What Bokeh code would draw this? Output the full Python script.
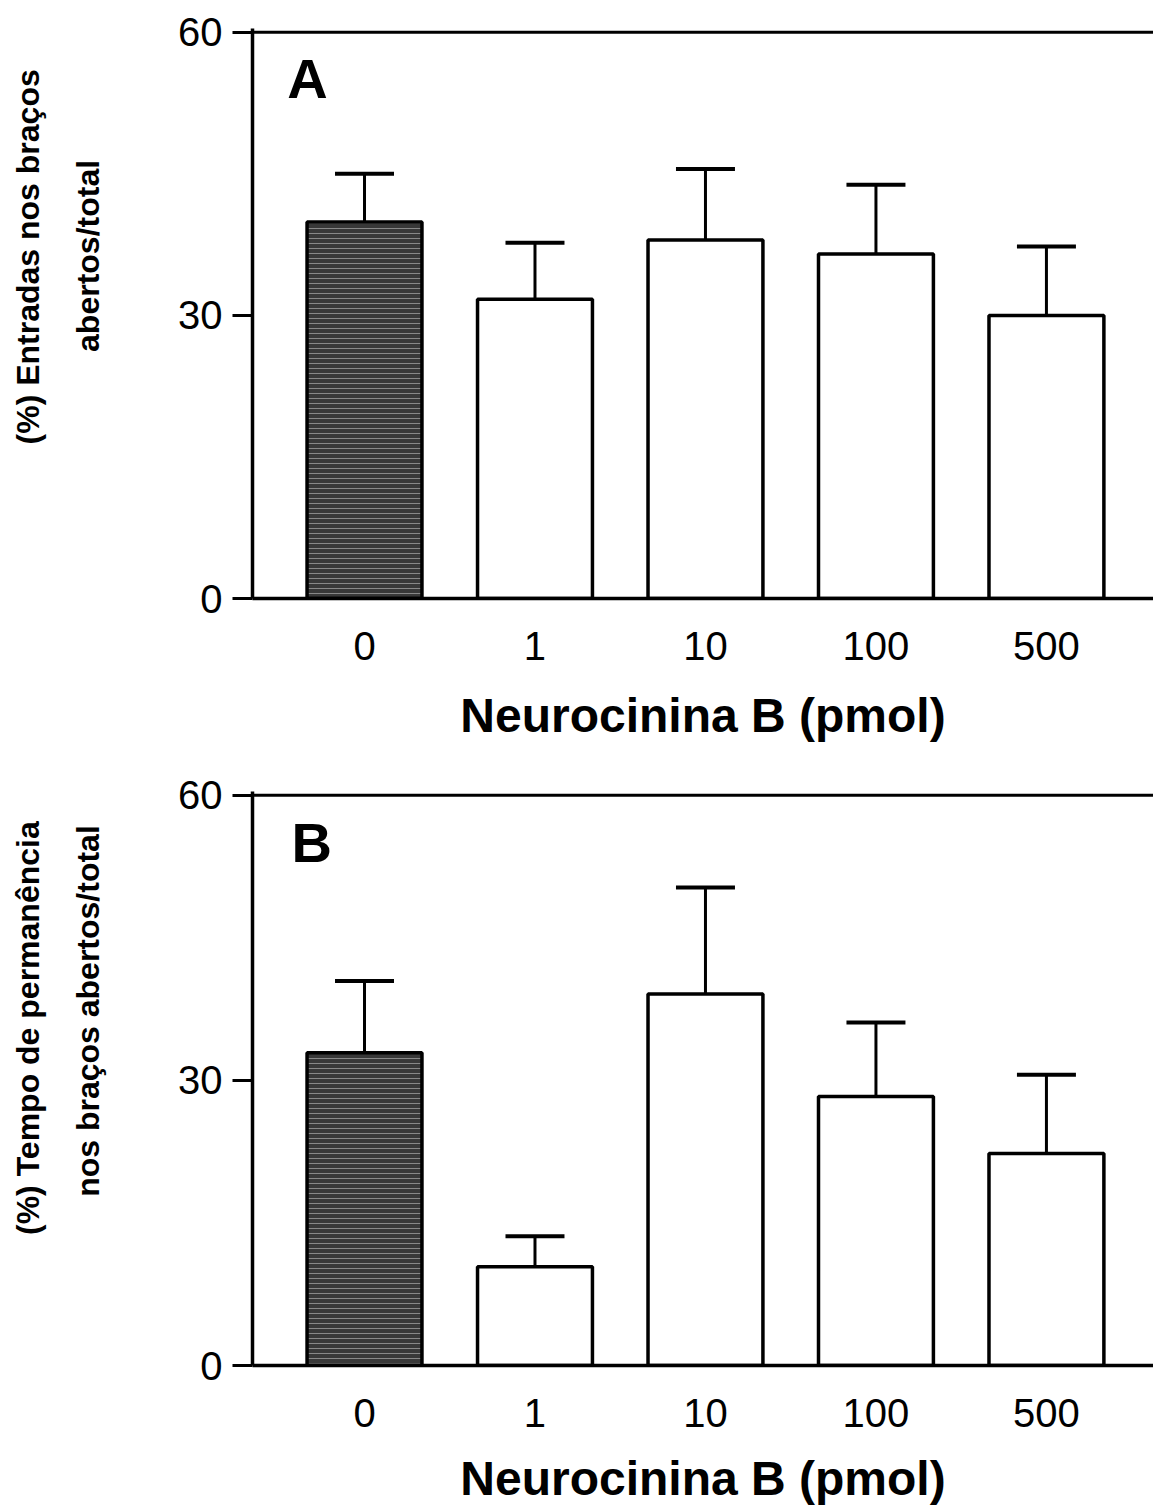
import numpy as np
from bokeh.plotting import figure
from bokeh.layouts import column, row
from bokeh.models import Range1d, FixedTicker, Span, Label
from bokeh.core.properties import value
from bokeh.embed import file_html
from bokeh.resources import INLINE

# ---- data ----
doses = ["0", "1", "10", "100", "500"]
entries_mean = [39.9, 31.7, 38.0, 36.5, 30.0]
entries_sem = [5.1, 6.0, 7.5, 7.35, 7.3]
time_mean = [32.9, 10.4, 39.1, 28.3, 22.3]
time_sem = [7.55, 3.2, 11.2, 7.8, 8.3]
y_ticks = [0, 30, 60]
x_title = "Neurocinina B (pmol)"
ylab_A = ["(%) Entradas nos braços", "abertos/total"]
ylab_B = ["(%) Tempo de permanência", "nos braços abertos/total"]

FONT = "Liberation Sans"
LEFT_W = 170
YTOP = 60.4


def panel(means, sems, letter, ylines, height, top_border, bottom_border, ylab_pos, letter_pos,
          label_standoff):
    idx = np.arange(len(doses))
    p = figure(width=1153 - LEFT_W, height=height, output_backend="svg", toolbar_location=None,
               x_range=Range1d(-0.657, 4.628), y_range=Range1d(0, YTOP),
               min_border_left=252 - LEFT_W, min_border_right=0,
               min_border_top=top_border, min_border_bottom=bottom_border)
    p.outline_line_color = None
    p.grid.visible = False

    # bars
    fills = ["#383838"] + ["white"] * (len(doses) - 1)
    hatch = ["horizontal_line"] + [" "] * (len(doses) - 1)
    p.vbar(x=idx, top=means, bottom=0, width=0.674, fill_color=fills,
           line_color="black", line_width=3.5,
           hatch_pattern=hatch, hatch_color="white", hatch_alpha=0.4,
           hatch_scale=5, hatch_weight=1)

    upper = np.array(means) + np.array(sems)
    p.segment(x0=idx, y0=means, x1=idx, y1=upper, line_color="black", line_width=3)
    p.segment(x0=idx - 0.173, y0=upper, x1=idx + 0.173, y1=upper,
              line_color="black", line_width=4)

    # top line at 60
    p.add_layout(Span(location=60, dimension="width", line_color="black", line_width=3))

    # y axis
    ya = p.yaxis[0]
    ya.ticker = FixedTicker(ticks=y_ticks)
    ya.axis_line_width = 3.5
    ya.major_tick_line_width = 3
    ya.major_tick_out = 20
    ya.major_tick_in = 0
    ya.minor_tick_line_color = None
    ya.major_label_text_font = FONT
    ya.major_label_text_font_size = "40px"
    ya.major_label_text_color = "black"
    ya.major_label_standoff = 10

    # x axis
    xa = p.xaxis[0]
    xa.ticker = FixedTicker(ticks=list(idx))
    xa.major_label_overrides = {int(i): d for i, d in zip(idx, doses)}
    xa.axis_line_width = 3.5
    xa.major_tick_line_color = None
    xa.minor_tick_line_color = None
    xa.major_label_text_font = FONT
    xa.major_label_text_font_size = "40px"
    xa.major_label_text_color = "black"
    xa.major_label_standoff = 27
    xa.axis_label = x_title
    xa.axis_label_text_font = FONT
    xa.axis_label_text_font_size = "48px"
    xa.axis_label_text_font_style = "bold"
    xa.axis_label_text_color = "black"
    xa.axis_label_standoff = label_standoff

    # panel letter
    p.add_layout(Label(x=letter_pos[0], y=letter_pos[1], text=letter,
                       text_align="center", text_baseline="alphabetic",
                       text_font=FONT, text_font_size="56px",
                       text_font_style="bold", text_color="black"))

    # side figure holding the two-line y title
    side = figure(width=LEFT_W, height=height, output_backend="svg", toolbar_location=None,
                  x_range=Range1d(0, LEFT_W), y_range=Range1d(0, YTOP),
                  x_axis_type=None, y_axis_type=None,
                  min_border_left=0, min_border_right=0,
                  min_border_top=top_border, min_border_bottom=bottom_border)
    side.outline_line_color = None
    side.grid.visible = False
    xs = [pos[0] for pos in ylab_pos]
    ys = [pos[1] for pos in ylab_pos]
    side.text(x=xs, y=ys, text=ylines, angle=np.pi / 2,
              text_align="center", text_baseline="middle",
              text_font=value(FONT), text_font_size=value("32px"),
              text_font_style="bold", text_color="black")
    return row(side, p, spacing=0)


rA = panel(entries_mean, entries_sem, "A", ylab_A, 760, 28, 162,
           [(27, 36.2), (87, 36.3)], (-0.334, 55.1), 26)
rB = panel(time_mean, time_sem, "B", ylab_B, 748, 31, 143,
           [(27, 35.5), (87, 37.3)], (-0.31, 55.0), 22)

layout = column(rA, rB, spacing=0)
open("out.html", "w").write(file_html(layout, INLINE))
